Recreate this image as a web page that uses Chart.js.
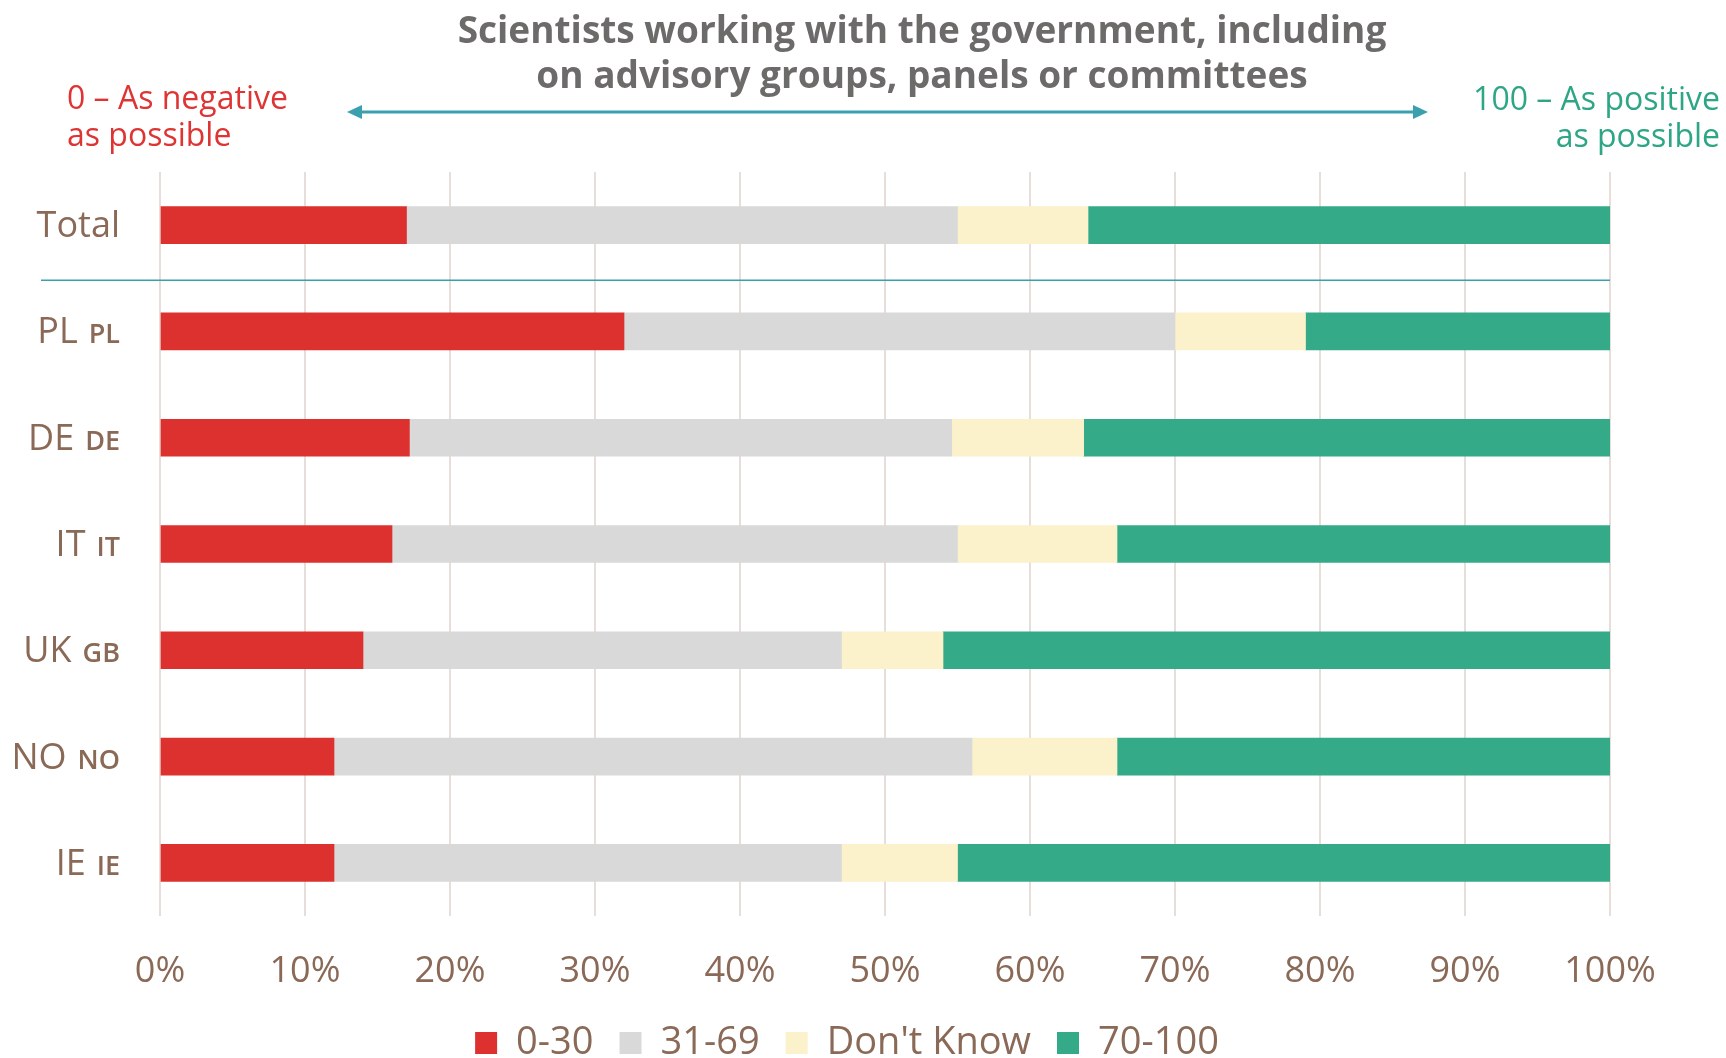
<!DOCTYPE html>
<html>
<head>
<meta charset="utf-8">
<title>Scientists working with the government</title>
<script src="https://cdn.jsdelivr.net/npm/chart.js"></script>
<style>
  html, body { margin: 0; padding: 0; background: #ffffff; }
  #wrap { width: 1726px; height: 1058px; position: relative; }
</style>
</head>
<body>
<div id="wrap"><canvas id="chart" width="1726" height="1058"></canvas></div>
<script>
// chart data
const countries = ["Total", "PL", "DE", "IT", "UK", "NO", "IE"];
const countryCodes = ["", "PL", "DE", "IT", "GB", "NO", "IE"];
const seriesNames = ["0-30", "31-69", "Don't Know", "70-100"];
const negative = [17, 32, 17.2, 16, 14, 12, 12];
const middle = [38, 38, 37.4, 39, 33, 44, 35];
const dontKnow = [9, 9, 9.1, 11, 7, 10, 8];
const positive = [36, 21, 36.3, 34, 46, 34, 45];
const xTicks = [0, 10, 20, 30, 40, 50, 60, 70, 80, 90, 100];

const titleLines = ["Scientists working with the government, including", "on advisory groups, panels or committees"];
const leftNote = ["0 \u2013 As negative", "as possible"];
const rightNote = ["100 \u2013 As positive", "as possible"];

const COLORS = ["#dc312e", "#d9d9d9", "#fbf1cb", "#35aa88"];
const BROWN = "#8a6957";
const TEAL = "#3aa0b0";

Chart.defaults.font.family = "'Open Sans', sans-serif";

// title, scale arrow, side notes, separator and two-part country labels
const decorations = {
    id: 'decorations',
    afterDatasetsDraw(chart) {
        const ctx = chart.ctx;
        const area = chart.chartArea;
        const y = chart.scales.y;
        ctx.save();

        // separator between Total and the countries
        const sepY = (y.getPixelForValue(0) + y.getPixelForValue(1)) / 2 + 2;
        ctx.strokeStyle = TEAL;
        ctx.lineWidth = 1.5;
        ctx.beginPath();
        ctx.moveTo(41, sepY);
        ctx.lineTo(area.right, sepY);
        ctx.stroke();

        // country labels
        ctx.textBaseline = 'alphabetic';
        countries.forEach((name, i) => {
            const py = y.getPixelForValue(i) + 12;
            let right = 120;
            ctx.fillStyle = BROWN;
            ctx.textAlign = 'right';
            if (countryCodes[i]) {
                ctx.font = "600 27px 'Open Sans'";
                ctx.fillText(countryCodes[i], right, py);
                right -= ctx.measureText(countryCodes[i]).width + 11;
            }
            ctx.font = "36px 'Open Sans'";
            ctx.fillText(name, right, py);
        });

        // title
        ctx.fillStyle = "#6d6a6a";
        ctx.font = "bold 37px 'Open Sans'";
        ctx.textAlign = 'center';
        ctx.fillText(titleLines[0], 922, 43);
        ctx.fillText(titleLines[1], 922, 88);

        // side notes
        ctx.font = "32px 'Open Sans'";
        ctx.fillStyle = "#df3434";
        ctx.textAlign = 'left';
        ctx.fillText(leftNote[0], 67, 109);
        ctx.fillText(leftNote[1], 67, 146);
        ctx.fillStyle = "#2ea685";
        ctx.textAlign = 'right';
        ctx.fillText(rightNote[0], 1720, 110);
        ctx.fillText(rightNote[1], 1720, 147);

        // double-headed arrow
        const ay = 112, ax1 = 347, ax2 = 1428;
        ctx.strokeStyle = TEAL;
        ctx.fillStyle = TEAL;
        ctx.lineWidth = 3;
        ctx.beginPath();
        ctx.moveTo(ax1 + 8, ay);
        ctx.lineTo(ax2 - 8, ay);
        ctx.stroke();
        ctx.beginPath();
        ctx.moveTo(ax1, ay);
        ctx.lineTo(ax1 + 15, ay - 7);
        ctx.lineTo(ax1 + 15, ay + 7);
        ctx.closePath();
        ctx.fill();
        ctx.beginPath();
        ctx.moveTo(ax2, ay);
        ctx.lineTo(ax2 - 15, ay - 7);
        ctx.lineTo(ax2 - 15, ay + 7);
        ctx.closePath();
        ctx.fill();

        ctx.restore();
    }
};

const values = [negative, middle, dontKnow, positive];
const datasets = seriesNames.map((name, i) => ({
    label: name,
    data: values[i],
    backgroundColor: COLORS[i],
    borderWidth: 0,
    barThickness: 37
}));

new Chart(document.getElementById('chart').getContext('2d'), {
    type: 'bar',
    data: {
        labels: countries,
        datasets: datasets
    },
    options: {
        indexAxis: 'y',
        responsive: false,
        animation: false,
        layout: {
            padding: { top: 172, left: 84, right: 116, bottom: -14 }
        },
        scales: {
            x: {
                stacked: true,
                min: 0,
                max: 100,
                afterBuildTicks(scale) {
                    scale.ticks = xTicks.map(v => ({ value: v }));
                },
                afterFit(scale) {
                    // drop the extra space below the labels so the legend sits closer
                    scale.height = 82;
                },
                ticks: {
                    callback: v => v + '%',
                    color: BROWN,
                    font: { size: 36 },
                    padding: 34,
                    maxRotation: 0
                },
                grid: {
                    color: "#e7ddd9",
                    lineWidth: 2,
                    drawTicks: false
                },
                border: { display: false }
            },
            y: {
                stacked: true,
                ticks: { display: false },
                grid: { display: false },
                border: { display: false },
                afterFit(scale) {
                    scale.width = 76;
                }
            }
        },
        plugins: {
            legend: {
                position: 'bottom',
                labels: {
                    boxWidth: 22,
                    boxHeight: 22,
                    color: BROWN,
                    font: { size: 38 },
                    padding: 26
                }
            },
            tooltip: { enabled: false },
            title: { display: false }
        }
    },
    plugins: [decorations]
});
</script>
</body>
</html>
